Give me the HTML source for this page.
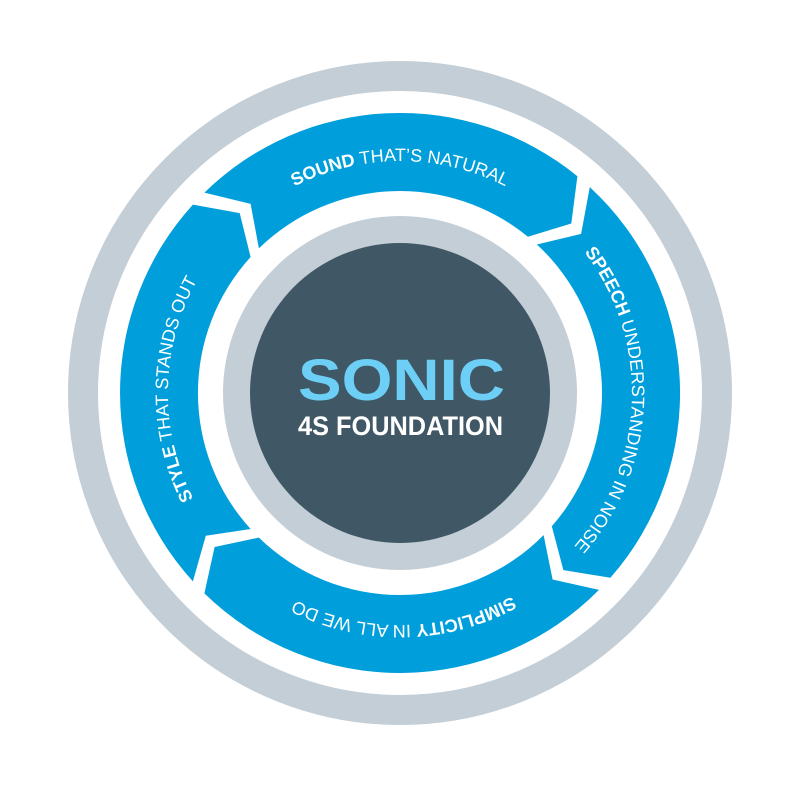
<!DOCTYPE html>
<html><head><meta charset="utf-8"><style>html,body{margin:0;padding:0;background:#fff}svg{display:block}</style></head>
<body>
<svg width="800" height="786" viewBox="0 0 800 786" xmlns="http://www.w3.org/2000/svg">
<defs>
<path id="tTop" d="M182.0,313.7 A232,232 0 0 1 618.0,313.7"/>
<path id="tRight" d="M486.9,177.9 A232,232 0 0 1 471.7,613.6"/>
<path id="tBot" d="M619.4,468.5 A232,232 0 0 1 183.4,476.1"/>
<path id="tLeft" d="M316.9,609.6 A232,232 0 0 1 324.5,173.6"/>
</defs>
<circle cx="400" cy="393" r="317" fill="none" stroke="#c3ced6" stroke-width="30"/>
<g fill="#009fdb">
<path d="M204.4,192.6 A280,280 0 0 1 577.4,176.3 L571.3,223.5 L527.9,236.7 A202,202 0 0 0 258.9,248.4 L250.6,203.9 Z"/>
<path d="M589.8,187.1 A280,280 0 0 1 610.4,577.8 L563.4,570.1 L551.8,526.3 A202,202 0 0 0 536.9,244.5 L581.1,233.9 Z"/>
<path d="M599.0,589.9 A280,280 0 0 1 204.4,593.4 L214.6,547.0 L258.9,537.6 A202,202 0 0 0 543.6,535.1 L552.6,579.5 Z"/>
<path d="M192.9,581.4 A280,280 0 0 1 192.9,204.6 L239.7,213.1 L250.6,257.0 A202,202 0 0 0 250.6,529.0 L205.8,535.7 Z"/>
</g>
<circle cx="400" cy="393" r="177" fill="#c3ced6"/>
<circle cx="400" cy="393" r="150" fill="#405866"/>
<g font-family="Liberation Sans, sans-serif" font-size="18" fill="#fff">
<text><textPath href="#tTop" startOffset="50%" text-anchor="middle"><tspan font-weight="bold">SOUND</tspan> THAT’S NATURAL</textPath></text>
<text><textPath href="#tRight" startOffset="50%" text-anchor="middle"><tspan font-weight="bold">SPEECH</tspan> UNDERSTANDING IN NOISE</textPath></text>
<text><textPath href="#tBot" startOffset="50%" text-anchor="middle"><tspan font-weight="bold">SIMPLICITY</tspan> IN ALL WE DO</textPath></text>
<text><textPath href="#tLeft" startOffset="50%" text-anchor="middle"><tspan font-weight="bold">STYLE</tspan> THAT STANDS OUT</textPath></text>
</g>
<text x="298" y="400" font-family="Liberation Sans, sans-serif" font-weight="bold" font-size="58" fill="#6dcff6" textLength="207" lengthAdjust="spacingAndGlyphs">SONIC</text>
<text x="298" y="435" font-family="Liberation Sans, sans-serif" font-weight="bold" font-size="27" fill="#fff" textLength="205" lengthAdjust="spacingAndGlyphs">4S FOUNDATION</text>
</svg>
</body></html>
